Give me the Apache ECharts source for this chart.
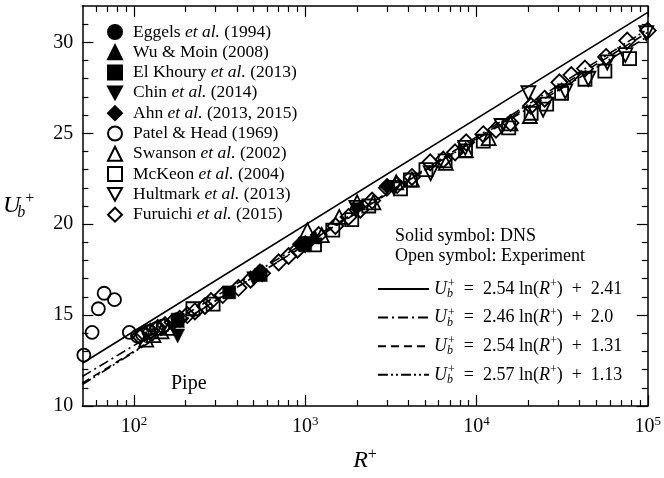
<!DOCTYPE html>
<html><head><meta charset="utf-8">
<script src="https://cdn.jsdelivr.net/npm/echarts@6/dist/echarts.min.js"></script>
<style>html,body{margin:0;padding:0;background:#fff}#c{width:664px;height:478px}</style>
</head><body><div id="c"></div>
<script>
// ---- axis ticks ----
const xMajorTicks = [100, 1000, 10000, 100000];
const xTickExponents = ['2', '3', '4', '5'];
const xMinorTicks = [60,70,80,90,200,300,400,500,600,700,800,900,2000,3000,4000,5000,6000,7000,8000,9000,20000,30000,40000,50000,60000,70000,80000,90000];
const yMajorTicks = [10, 15, 20, 25, 30];
const yMinorTicks = [11,12,13,14,16,17,18,19,21,22,23,24,26,27,28,29,31];

// ---- DNS (solid symbols) ----
const eggelsR = [180];
const eggelsU = [14.8];
const wuR = [180, 1142];
const wuU = [14.7, 19.3];
const elkR = [180, 360, 550, 1000];
const elkU = [14.75, 16.25, 17.2, 18.85];
const chinR = [180, 500, 1000, 2000];
const chinU = [13.85, 17.0, 18.9, 20.8];
const ahnR = [544, 934, 3008];
const ahnU = [17.4, 18.9, 22.1];

// ---- Experiments (open symbols) ----
const patelR = [51, 57, 62, 67, 77, 94, 105, 112, 122, 135, 148];
const patelU = [12.8, 14.05, 15.35, 16.2, 15.85, 14.05, 13.85, 13.95, 14.1, 14.25, 14.4];
const swansonR = [118, 130, 145, 160, 1030, 1250, 1580, 2010, 2500, 3400, 4200, 6620, 8650, 11780, 15800, 20500];
const swansonU = [13.65, 13.9, 14.1, 14.3, 19.67, 19.4, 20.4, 21.2, 21.2, 22.3, 22.45, 23.37, 24.08, 24.73, 25.54, 25.95];
const mckeonR = [221, 290, 1133, 1449, 1870, 2350, 3600, 4110, 5070, 6560, 8630, 10960, 15430, 20850, 25700, 31400, 43000, 56200, 78300];
const mckeonU = [15.35, 15.6, 18.86, 19.67, 20.25, 21.0, 21.94, 22.43, 23.0, 23.48, 24.03, 24.57, 25.3, 26.1, 26.6, 27.2, 27.97, 28.42, 29.11];
const hultmarkR = [1990, 3300, 5400, 8600, 14000, 20100, 24500, 33000, 45000, 58000, 74000, 98000];
const hultmarkU = [20.9, 22.0, 22.8, 24.2, 25.4, 27.2, 26.3, 27.3, 28.0, 28.9, 29.3, 30.5];
const furuichiR = [108,115,125,138,152,168,185,205,227,260,282,330,408,480,560,700,800,902,1000,1200,1500,1790,2100,2460,3000,3440,4200,5370,6400,7500,8710,10960,13000,15800,20800,25000,30500,35800,43000,57100,75900,100000];
const furuichiU = [13.85,14.0,14.1,14.3,14.45,14.6,14.8,15.0,15.2,15.5,15.77,16.1,16.5,16.95,17.3,17.9,18.25,18.6,18.9,19.4,19.9,20.4,20.8,21.3,22.0,22.15,22.6,23.4,23.55,23.95,24.5,24.95,25.2,25.57,26.5,26.9,27.8,28.2,28.56,29.2,30.1,30.65];

// ---- Fit lines (end points at R+ = 50 and 1e5) ----
const lineR = [50, 100000];
const fit1U = [12.35, 31.65];
const fit2U = [11.62, 30.32];
const fit3U = [11.25, 30.55];
const fit4U = [11.18, 30.72];

const FONT = 'Liberation Serif';
const zip = (a, b) => a.map((v, i) => [v, b[i]]);
const downTri = 'path://M0,0 L10,0 L5,9 Z';

const solid = (name, sym, size, R, U) => ({
  name, type: 'scatter', symbol: sym, symbolSize: size, data: zip(R, U), z: 5,
  itemStyle: { color: '#000', borderColor: '#000', borderWidth: 0.5, opacity: 1 }
});
const open = (name, sym, size, R, U) => ({
  name, type: 'scatter', symbol: sym, symbolSize: size, data: zip(R, U), z: 4,
  itemStyle: { color: 'rgba(255,255,255,0)', borderColor: '#000', borderWidth: 1.8, opacity: 1 }
});
const fitLine = (name, U, type) => ({
  name, type: 'line', data: zip(lineR, U), symbol: 'none', z: 2, silent: true,
  itemStyle: { color: '#000' },
  lineStyle: { color: '#000', width: 1.6, type }
});

const legendNames = {
  'Eggels': '{w| }{n|Eggels }{i|et al.}{n| (1994)}',
  'Wu': '{w| }{n|Wu & Moin (2008)}',
  'ElKhoury': '{w| }{n|El Khoury }{i|et al.}{n| (2013)}',
  'Chin': '{w| }{n|Chin }{i|et al.}{n| (2014)}',
  'Ahn': '{w| }{n|Ahn }{i|et al.}{n| (2013, 2015)}',
  'Patel': '{w| }{n|Patel & Head (1969)}',
  'Swanson': '{w| }{n|Swanson }{i|et al.}{n| (2002)}',
  'McKeon': '{w| }{n|McKeon }{i|et al.}{n| (2004)}',
  'Hultmark': '{w| }{n|Hultmark }{i|et al.}{n| (2013)}',
  'Furuichi': '{w| }{n|Furuichi }{i|et al.}{n| (2015)}'
};
const S = '\u2002';
const fitNames = {
  f1: '{u|U}{sb|b}{sp|+}{n|' + S + '=' + S + '2.54 ln(}{u|R}{sp|+}{n|)' + S + '+' + S + '2.41}',
  f2: '{u|U}{sb|b}{sp|+}{n|' + S + '=' + S + '2.46 ln(}{u|R}{sp|+}{n|)' + S + '+' + S + '2.0}',
  f3: '{u|U}{sb|b}{sp|+}{n|' + S + '=' + S + '2.54 ln(}{u|R}{sp|+}{n|)' + S + '+' + S + '1.31}',
  f4: '{u|U}{sb|b}{sp|+}{n|' + S + '=' + S + '2.57 ln(}{u|R}{sp|+}{n|)' + S + '+' + S + '1.13}'
};
const mathRich = {
  u: { fontFamily: FONT, fontStyle: 'italic', fontSize: 18, color: '#000', lineHeight: 22 },
  n: { fontFamily: FONT, fontSize: 18, color: '#000', lineHeight: 22 },
  sb: { fontFamily: FONT, fontStyle: 'italic', fontSize: 12, color: '#000', lineHeight: 12, padding: [10, 0, 0, 0], width: 1 },
  sp: { fontFamily: FONT, fontSize: 12, color: '#000', lineHeight: 12, padding: [0, 0, 10, 0] }
};

const axisBase = (pos, isX) => ({
  type: isX ? 'log' : 'value',
  position: pos,
  min: isX ? 50 : 10,
  max: isX ? 100000 : 32,
  splitLine: { show: false },
  axisLine: { show: true, onZero: false, lineStyle: { color: '#000', width: 1.5 } },
  axisLabel: { show: false },
  axisPointer: { show: false }
});
const major = (pos, isX, labels) => {
  const a = axisBase(pos, isX);
  a.axisTick = { show: true, inside: true, length: 11, lineStyle: { color: '#000', width: 1.2 }, customValues: isX ? xMajorTicks : yMajorTicks };
  if (labels) {
    a.axisLabel = isX ? {
      show: true, margin: 9, customValues: xMajorTicks,
      formatter: v => '{b|10}{s|' + xTickExponents[xMajorTicks.indexOf(v)] + '}',
      rich: {
        b: { fontFamily: FONT, fontSize: 20, color: '#000' },
        s: { fontFamily: FONT, fontSize: 13, color: '#000', padding: [0, 0, 10, 0] }
      }
    } : {
      show: true, margin: 9, customValues: yMajorTicks, fontFamily: FONT, fontSize: 20, color: '#000'
    };
  }
  return a;
};
const minor = (pos, isX) => {
  const a = axisBase(pos, isX);
  a.axisLine = { show: false };
  a.axisTick = { show: true, inside: true, length: 6, lineStyle: { color: '#000', width: 1.2 }, customValues: isX ? xMinorTicks : yMinorTicks };
  return a;
};

const xAxes = [major('bottom', true, true), minor('bottom', true), major('top', true, false), minor('top', true)];
xAxes[0].name = '{r|R}{p|+}';
xAxes[0].nameLocation = 'middle';
xAxes[0].nameGap = 41;
xAxes[0].nameTextStyle = { rich: {
  r: { fontFamily: FONT, fontStyle: 'italic', fontSize: 24, color: '#000' },
  p: { fontFamily: FONT, fontSize: 16, color: '#000', padding: [0, 0, 12, 0] }
} };
const yAxes = [major('left', false, true), minor('left', false), major('right', false, false), minor('right', false)];
yAxes[0].name = '{u|U}{b|b}{p|+}';
yAxes[0].nameLocation = 'middle';
yAxes[0].nameRotate = 0;
yAxes[0].nameGap = 48;
yAxes[0].nameTextStyle = { rich: {
  u: { fontFamily: FONT, fontStyle: 'italic', fontSize: 24, color: '#000' },
  b: { fontFamily: FONT, fontStyle: 'italic', fontSize: 16, color: '#000', padding: [14, 0, 0, 1], width: 4 },
  p: { fontFamily: FONT, fontSize: 16, color: '#000', padding: [0, 0, 14, 0] }
} };

const chart = echarts.init(document.getElementById('c'), null, { renderer: 'canvas' });
chart.setOption({
  animation: false,
  backgroundColor: '#fff',
  grid: { left: 82, right: 14, top: 6, bottom: 67, containLabel: false },
  xAxis: xAxes,
  yAxis: yAxes,
  legend: [{
    orient: 'vertical', left: 107, top: 22, padding: 0, itemWidth: 14, itemHeight: 14, itemGap: 0.3,
    selectedMode: false,
    data: ['Eggels','Wu','ElKhoury','Chin','Ahn','Patel','Swanson','McKeon','Hultmark','Furuichi'],
    formatter: n => legendNames[n],
    textStyle: { fontFamily: FONT, fontSize: 17.5, color: '#000', lineHeight: 20, rich: {
      w: { width: 6, lineHeight: 20 },
      n: { fontFamily: FONT, fontSize: 17.5, color: '#000', lineHeight: 20 },
      i: { fontFamily: FONT, fontSize: 17.5, fontStyle: 'italic', color: '#000', lineHeight: 20 }
    } }
  }, {
    orient: 'vertical', left: 377, top: 278, padding: 0, itemWidth: 51, itemHeight: 20, itemGap: 6.6,
    selectedMode: false,
    itemStyle: { opacity: 0 },
    data: ['f1','f2','f3','f4'],
    formatter: n => fitNames[n],
    textStyle: { fontFamily: FONT, fontSize: 18, color: '#000', rich: mathRich }
  }],
  graphic: [
    { type: 'text', left: 395, top: 227, style: { text: 'Solid symbol: DNS', fontFamily: FONT, fontSize: 18, fill: '#000' } },
    { type: 'text', left: 395, top: 247, style: { text: 'Open symbol: Experiment', fontFamily: FONT, fontSize: 18, fill: '#000' } },
    { type: 'text', left: 171, top: 374, style: { text: 'Pipe', fontFamily: FONT, fontSize: 20, fill: '#000' } }
  ],
  series: [
    fitLine('f1', fit1U, 'solid'),
    fitLine('f2', fit2U, [10, 4, 2, 4]),
    fitLine('f3', fit3U, [8, 5]),
    fitLine('f4', fit4U, [10, 3, 2, 3, 2, 3]),
    open('Patel', 'circle', 13, patelR, patelU),
    open('Swanson', 'triangle', 14, swansonR, swansonU),
    open('McKeon', 'rect', 13, mckeonR, mckeonU),
    open('Hultmark', downTri, 14, hultmarkR, hultmarkU),
    open('Furuichi', 'diamond', 16, furuichiR, furuichiU),
    solid('Eggels', 'circle', 13, eggelsR, eggelsU),
    solid('Wu', 'triangle', 14, wuR, wuU),
    solid('ElKhoury', 'rect', 13, elkR, elkU),
    solid('Chin', downTri, 14, chinR, chinU),
    solid('Ahn', 'diamond', 16, ahnR, ahnU)
  ]
});
</script>
</body></html>
